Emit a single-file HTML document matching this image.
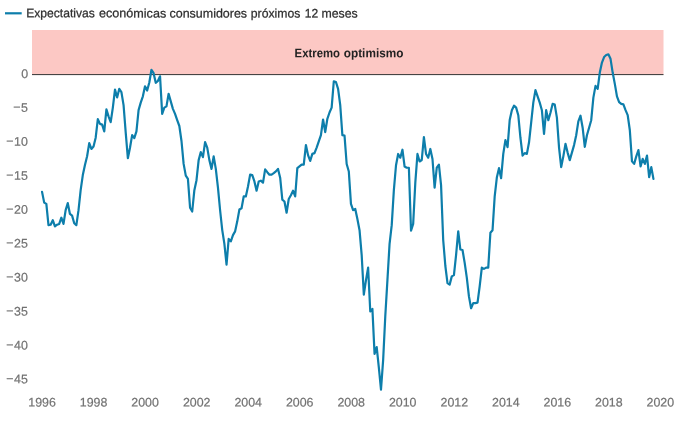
<!DOCTYPE html>
<html lang="es"><head><meta charset="utf-8"><title>Expectativas económicas consumidores</title>
<style>
html,body{margin:0;padding:0;background:#fff;}
body{width:680px;height:423px;overflow:hidden;font-family:"Liberation Sans",sans-serif;}
svg{display:block;font-family:"Liberation Sans",sans-serif;font-size:12.4px;}
.ax text{fill:#727272;stroke:#727272;stroke-width:0.2px;}
</style></head><body>
<svg width="680" height="423" viewBox="0 0 680 423">
<rect x="0" y="0" width="680" height="423" fill="#fff"/>
<line x1="5" y1="13.3" x2="21.7" y2="13.3" stroke="#0d7eab" stroke-width="2.2"/>
<text y="17.45" transform="rotate(0.06 190 17.45)" fill="#2e2e2e" stroke="#2e2e2e" stroke-width="0.25"><tspan x="26.2" textLength="68.6" lengthAdjust="spacingAndGlyphs">Expectativas</tspan> <tspan x="99" textLength="67.2" lengthAdjust="spacingAndGlyphs">económicas</tspan> <tspan x="169.5" textLength="77.6" lengthAdjust="spacingAndGlyphs">consumidores</tspan> <tspan x="250.8" textLength="49.6" lengthAdjust="spacingAndGlyphs">próximos</tspan> <tspan x="304.8" textLength="13.4" lengthAdjust="spacingAndGlyphs">12</tspan> <tspan x="321.4" textLength="36.3" lengthAdjust="spacingAndGlyphs">meses</tspan></text>
<rect x="32" y="30" width="631.5" height="44.5" fill="#fcc8c4"/>
<text y="57.25" transform="rotate(0.06 348 57.25)" font-weight="bold" fill="#222"><tspan x="294.6" textLength="45.4" lengthAdjust="spacingAndGlyphs">Extremo</tspan> <tspan x="343.8" textLength="59.6" lengthAdjust="spacingAndGlyphs">optimismo</tspan></text>
<line x1="32" y1="74.6" x2="663.5" y2="74.6" stroke="#333" stroke-width="1"/>
<g class="ax"><text x="28.2" y="77.90" transform="rotate(0.06 28.2 77.90)" text-anchor="end">0</text><text x="28.4" y="111.84" transform="rotate(0.06 28.2 111.84)" text-anchor="end"><tspan dx="-0.5" dy="-0.5">−</tspan><tspan dx="0.5" dy="0.5">5</tspan></text><text x="28.4" y="145.78" transform="rotate(0.06 28.2 145.78)" text-anchor="end"><tspan dx="-0.5" dy="-0.5">−</tspan><tspan dx="0.5" dy="0.5">10</tspan></text><text x="28.4" y="179.72" transform="rotate(0.06 28.2 179.72)" text-anchor="end"><tspan dx="-0.5" dy="-0.5">−</tspan><tspan dx="0.5" dy="0.5">15</tspan></text><text x="28.4" y="213.66" transform="rotate(0.06 28.2 213.66)" text-anchor="end"><tspan dx="-0.5" dy="-0.5">−</tspan><tspan dx="0.5" dy="0.5">20</tspan></text><text x="28.4" y="247.60" transform="rotate(0.06 28.2 247.60)" text-anchor="end"><tspan dx="-0.5" dy="-0.5">−</tspan><tspan dx="0.5" dy="0.5">25</tspan></text><text x="28.4" y="281.54" transform="rotate(0.06 28.2 281.54)" text-anchor="end"><tspan dx="-0.5" dy="-0.5">−</tspan><tspan dx="0.5" dy="0.5">30</tspan></text><text x="28.4" y="315.48" transform="rotate(0.06 28.2 315.48)" text-anchor="end"><tspan dx="-0.5" dy="-0.5">−</tspan><tspan dx="0.5" dy="0.5">35</tspan></text><text x="28.4" y="349.42" transform="rotate(0.06 28.2 349.42)" text-anchor="end"><tspan dx="-0.5" dy="-0.5">−</tspan><tspan dx="0.5" dy="0.5">40</tspan></text><text x="28.4" y="383.36" transform="rotate(0.06 28.2 383.36)" text-anchor="end"><tspan dx="-0.5" dy="-0.5">−</tspan><tspan dx="0.5" dy="0.5">45</tspan></text><text x="42.1" y="406.6" transform="rotate(0.06 42.1 406.6)" text-anchor="middle" textLength="27.6" lengthAdjust="spacingAndGlyphs">1996</text><text x="93.6" y="406.6" transform="rotate(0.06 93.6 406.6)" text-anchor="middle" textLength="27.6" lengthAdjust="spacingAndGlyphs">1998</text><text x="145.1" y="406.6" transform="rotate(0.06 145.1 406.6)" text-anchor="middle" textLength="27.6" lengthAdjust="spacingAndGlyphs">2000</text><text x="196.7" y="406.6" transform="rotate(0.06 196.7 406.6)" text-anchor="middle" textLength="27.6" lengthAdjust="spacingAndGlyphs">2002</text><text x="248.2" y="406.6" transform="rotate(0.06 248.2 406.6)" text-anchor="middle" textLength="27.6" lengthAdjust="spacingAndGlyphs">2004</text><text x="299.7" y="406.6" transform="rotate(0.06 299.7 406.6)" text-anchor="middle" textLength="27.6" lengthAdjust="spacingAndGlyphs">2006</text><text x="351.2" y="406.6" transform="rotate(0.06 351.2 406.6)" text-anchor="middle" textLength="27.6" lengthAdjust="spacingAndGlyphs">2008</text><text x="402.7" y="406.6" transform="rotate(0.06 402.7 406.6)" text-anchor="middle" textLength="27.6" lengthAdjust="spacingAndGlyphs">2010</text><text x="454.3" y="406.6" transform="rotate(0.06 454.3 406.6)" text-anchor="middle" textLength="27.6" lengthAdjust="spacingAndGlyphs">2012</text><text x="505.8" y="406.6" transform="rotate(0.06 505.8 406.6)" text-anchor="middle" textLength="27.6" lengthAdjust="spacingAndGlyphs">2014</text><text x="557.3" y="406.6" transform="rotate(0.06 557.3 406.6)" text-anchor="middle" textLength="27.6" lengthAdjust="spacingAndGlyphs">2016</text><text x="608.8" y="406.6" transform="rotate(0.06 608.8 406.6)" text-anchor="middle" textLength="27.6" lengthAdjust="spacingAndGlyphs">2018</text><text x="660.3" y="406.6" transform="rotate(0.06 660.3 406.6)" text-anchor="middle" textLength="27.6" lengthAdjust="spacingAndGlyphs">2020</text></g>
<path d="M42.05,191.85 L44.20,202.63 L46.34,203.88 L48.49,225.19 L50.63,224.69 L52.78,220.18 L54.92,226.44 L57.07,224.69 L59.21,223.93 L61.36,217.67 L63.50,223.93 L65.65,210.15 L67.79,203.13 L69.94,213.91 L72.08,215.66 L74.23,223.18 L76.37,225.19 L78.52,210.15 L80.66,190.10 L82.81,175.06 L84.95,165.04 L87.10,156.27 L89.24,143.18 L91.39,148.95 L93.53,146.44 L95.68,137.67 L97.83,119.12 L99.97,123.88 L102.12,124.64 L104.26,131.40 L106.41,109.35 L108.55,116.37 L110.70,122.13 L112.84,107.59 L114.99,89.55 L117.13,97.40 L119.28,88.80 L121.42,92.06 L123.57,105.09 L125.71,132.66 L127.86,158.22 L130.00,147.69 L132.15,135.16 L134.29,138.17 L136.44,131.40 L138.58,110.10 L140.73,102.58 L142.87,96.32 L145.02,86.29 L147.16,90.55 L149.31,82.53 L151.46,69.75 L153.60,73.20 L155.75,82.80 L157.89,81.00 L160.04,76.27 L162.18,113.86 L164.33,107.59 L166.47,106.34 L168.62,93.81 L170.76,101.33 L172.91,108.85 L175.05,113.86 L177.20,120.13 L179.34,126.00 L181.49,141.00 L183.63,163.88 L185.78,175.66 L187.92,178.92 L190.07,207.74 L192.21,211.50 L194.36,190.20 L196.50,180.18 L198.65,160.13 L200.79,152.11 L202.94,157.12 L205.09,142.08 L207.23,147.59 L209.38,160.13 L211.52,168.90 L213.67,156.37 L215.81,168.90 L217.96,187.69 L220.10,210.25 L222.25,230.10 L224.39,243.88 L226.54,264.69 L228.68,238.87 L230.83,241.38 L232.97,235.11 L235.12,231.35 L237.26,221.33 L239.41,209.55 L241.55,208.30 L243.70,196.47 L245.84,196.47 L247.99,186.44 L250.13,174.66 L252.28,175.16 L254.42,181.43 L256.57,190.70 L258.72,181.43 L260.86,180.68 L263.01,182.68 L265.15,169.40 L267.30,172.16 L269.44,174.66 L271.59,174.66 L273.73,173.16 L275.88,171.40 L278.02,168.90 L280.17,177.67 L282.31,199.72 L284.46,201.48 L286.60,212.76 L288.75,198.97 L290.89,195.21 L293.04,190.70 L295.18,196.47 L297.33,168.15 L299.47,166.39 L301.62,164.64 L303.76,164.64 L305.91,145.09 L308.05,155.11 L310.20,160.88 L312.35,153.86 L314.49,153.11 L316.64,147.59 L318.78,141.33 L320.93,135.06 L323.07,119.52 L325.22,132.06 L327.36,118.77 L329.51,112.51 L331.65,107.59 L333.80,81.28 L335.94,82.03 L338.09,88.80 L340.23,105.09 L342.38,135.16 L344.52,135.66 L346.67,163.98 L348.81,171.50 L350.96,203.88 L353.10,210.15 L355.25,208.90 L357.39,218.92 L359.54,230.20 L361.68,255.06 L363.83,294.66 L365.98,280.13 L368.12,267.59 L370.27,311.45 L372.41,308.95 L374.56,353.88 L376.70,347.12 L378.85,367.67 L380.99,389.72 L383.14,360.15 L385.28,316.29 L387.43,280.13 L389.57,243.78 L391.72,225.19 L393.86,190.10 L396.01,165.24 L398.15,153.96 L400.30,157.72 L402.44,149.70 L404.59,166.49 L406.73,167.74 L408.88,167.74 L411.02,230.70 L413.17,223.93 L415.31,182.58 L417.46,153.96 L419.61,161.48 L421.75,160.00 L423.90,137.17 L426.04,153.96 L428.19,157.72 L430.33,148.95 L432.48,158.97 L434.62,187.59 L436.77,167.54 L438.91,164.54 L441.06,185.09 L443.20,240.00 L445.35,266.00 L447.49,283.13 L449.64,284.64 L451.78,276.37 L453.93,275.11 L456.07,255.06 L458.22,231.25 L460.36,249.55 L462.51,250.05 L464.65,262.58 L466.80,277.62 L468.94,296.42 L471.09,308.20 L473.24,303.18 L475.38,303.18 L477.53,302.68 L479.67,286.39 L481.82,267.59 L483.96,268.85 L486.11,267.59 L488.25,267.59 L490.40,232.71 L492.54,230.20 L494.69,196.37 L496.83,177.57 L498.98,168.15 L501.12,178.17 L503.27,153.86 L505.41,140.08 L507.56,147.09 L509.70,120.03 L511.85,110.18 L513.99,105.66 L516.14,107.67 L518.28,115.19 L520.43,137.74 L522.57,155.61 L524.72,153.11 L526.87,153.86 L529.01,142.58 L531.16,122.71 L533.30,102.66 L535.45,90.13 L537.59,96.39 L539.74,102.66 L541.88,110.18 L544.03,133.98 L546.17,110.18 L548.32,120.20 L550.46,112.68 L552.61,103.91 L554.75,104.66 L556.90,117.69 L559.04,147.59 L561.19,167.14 L563.33,156.37 L565.48,143.83 L567.62,152.61 L569.77,160.13 L571.91,152.61 L574.06,145.09 L576.20,135.24 L578.35,121.45 L580.50,115.69 L582.64,127.72 L584.79,146.80 L586.93,135.24 L589.08,127.72 L591.22,120.20 L593.37,97.64 L595.51,85.86 L597.66,88.87 L599.80,72.58 L601.95,62.56 L604.09,57.04 L606.24,55.00 L608.38,54.29 L610.53,58.80 L612.67,72.58 L614.82,83.86 L616.96,96.39 L619.11,102.16 L621.25,103.91 L623.40,104.41 L625.54,110.18 L627.69,115.19 L629.83,130.23 L631.98,161.38 L634.13,163.88 L636.27,156.37 L638.42,150.10 L640.56,166.39 L642.71,158.87 L644.85,163.88 L647.00,155.61 L649.14,177.17 L651.29,167.14 L653.43,178.92" fill="none" stroke="#0d7eab" stroke-width="2.2" stroke-linejoin="round" stroke-linecap="round"/>
</svg>
</body></html>
